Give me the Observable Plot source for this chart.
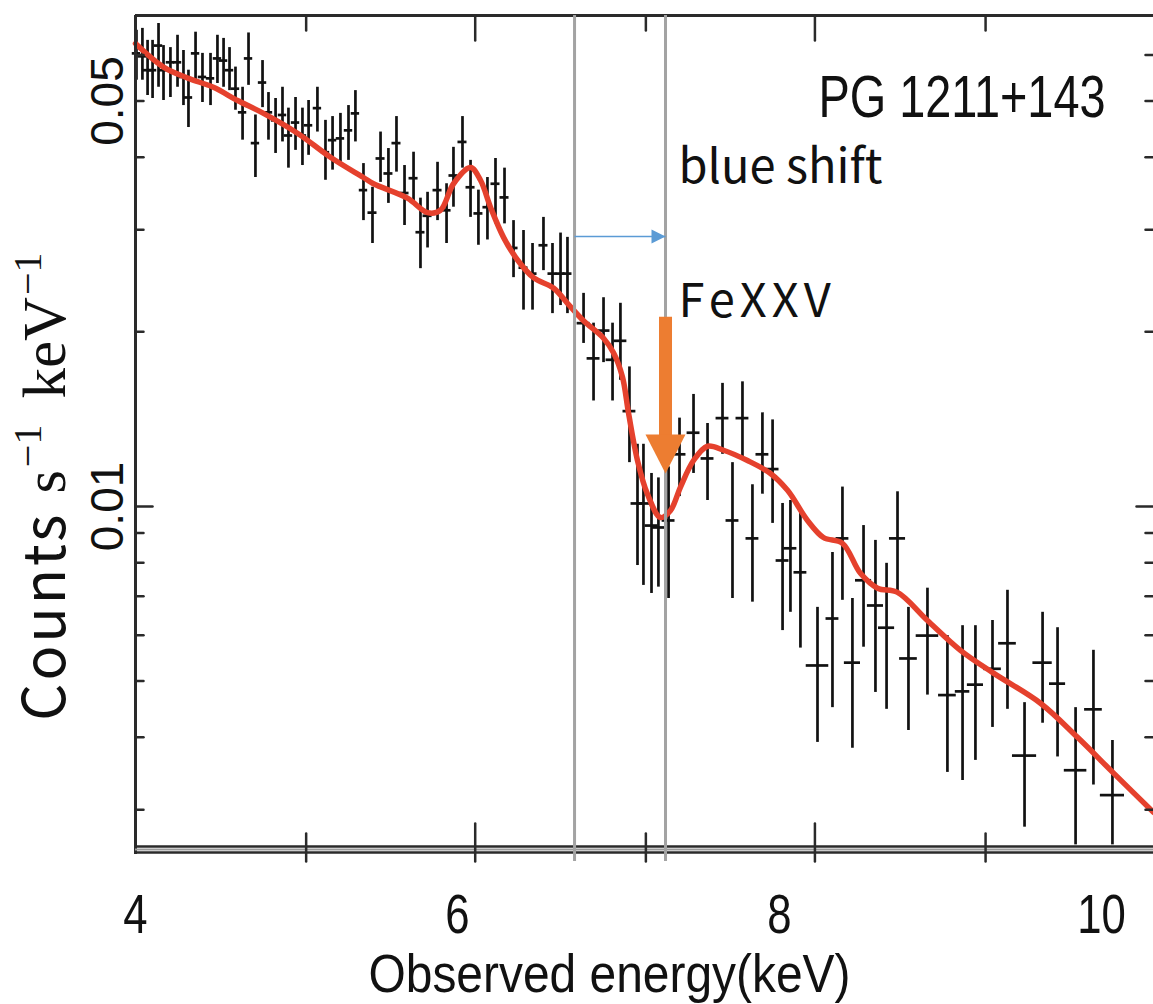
<!DOCTYPE html>
<html><head><meta charset="utf-8">
<script src="https://cdn.jsdelivr.net/npm/d3@7"></script>
<script src="https://cdn.jsdelivr.net/npm/@observablehq/plot@0.6"></script>
<style>
html,body{margin:0;padding:0;background:#fff;}
#chart{width:1153px;height:1004px;overflow:hidden;}
</style></head><body><div id="chart"></div>
<script>
// ---- data ----
const energy = [
4.006,4.043,4.075,4.106,4.143,4.174,4.217,4.261,4.298,4.329,
4.373,4.416,4.466,4.509,4.547,4.584,4.621,4.665,4.702,4.745,
4.789,4.826,4.870,4.913,4.950,4.994,5.037,5.075,5.130,5.180,
5.224,5.273,5.323,5.366,5.416,
5.472,5.522,5.571,5.621,5.671,5.727,5.770,5.814,5.876,5.932,
5.975,6.031,6.081,6.130,6.186,6.236,6.292,6.348,6.410,6.466,
6.534,6.590,6.640,6.683,
6.783,6.845,6.907,6.963,7.012,7.068,7.118,7.155,7.205,7.248,
7.311,7.379,7.466,7.553,7.646,7.708,7.770,7.832,7.894,7.957,
8.019,8.068,8.130,
8.236,8.329,8.391,8.453,8.522,8.596,8.665,8.733,8.801,8.919,
9.043,9.137,9.217,9.323,9.416,9.522,9.634,9.727,9.839,9.950,10.068];
const counts = [
0.0604,0.0597,0.0565,0.0565,0.0623,0.0565,0.0583,0.0583,0.0550,0.0507,
0.0604,0.0550,0.0547,0.0592,0.0587,0.0565,0.0525,0.0478,0.0592,0.0423,
0.0538,0.0478,0.0463,0.0473,0.0436,0.0459,0.0436,0.0454,0.0486,0.0408,
0.0428,0.0431,0.0445,0.0476,0.0351,
0.0321,0.0398,0.0375,0.0423,0.0347,0.0368,0.0297,0.0317,0.0351,0.0324,
0.0372,0.0425,0.0355,0.0320,0.0328,0.0360,0.0341,0.0279,0.0258,0.0252,
0.0282,0.0252,0.0252,0.0252,
0.0207,0.0180,0.0201,0.0179,0.0193,0.0146,0.01012,0.01012,0.00927,0.00920,
0.00946,0.0123,0.0134,0.0121,0.0142,0.00946,0.0142,0.00881,0.0123,0.0116,
0.00807,0.00847,0.00770,
0.00532,0.00641,0.00881,0.00538,0.00746,0.00675,0.00618,0.00881,0.00547,0.00599,
0.00473,0.00480,0.00493,0.00525,0.00581,0.00372,0.00538,0.00495,0.00351,0.00447,0.00318];
const countsHi = [
0.0662,0.0667,0.0636,0.0636,0.0680,0.0623,0.0618,0.0649,0.0611,0.0565,
0.0657,0.0604,0.0604,0.0649,0.0641,0.0618,0.0572,0.0528,0.0655,0.0473,
0.0587,0.0517,0.0505,0.0528,0.0486,0.0507,0.0486,0.0501,0.0528,0.0463,
0.0470,0.0476,0.0491,0.0521,0.0390,
0.0355,0.0442,0.0414,0.0470,0.0387,0.0408,0.0340,0.0348,0.0392,0.0360,
0.0416,0.0470,0.0395,0.0351,0.0369,0.0398,0.0383,0.0311,0.0299,0.0284,
0.0315,0.0284,0.0296,0.0291,
0.0233,0.0207,0.0229,0.0207,0.0224,0.0174,0.0128,0.0128,0.0114,0.0112,
0.0117,0.0142,0.0156,0.0139,0.0163,0.0119,0.0164,0.0109,0.0145,0.0141,
0.01012,0.01024,0.00984,
0.00670,0.00833,0.0108,0.00694,0.00927,0.00874,0.00798,0.0106,0.00670,0.00723,
0.00599,0.00623,0.00623,0.00636,0.00717,0.00459,0.00657,0.00618,0.00450,0.00565,0.00395];
const countsLo = [
0.0543,0.0543,0.0511,0.0505,0.0528,0.0501,0.0507,0.0528,0.0491,0.0450,
0.0538,0.0497,0.0491,0.0536,0.0528,0.0521,0.0482,0.0428,0.0532,0.0369,
0.0487,0.0428,0.0406,0.0425,0.0383,0.0411,0.0387,0.0403,0.0442,0.0365,
0.0380,0.0392,0.0395,0.0425,0.0311,
0.0284,0.0362,0.0333,0.0377,0.0305,0.0333,0.0257,0.0279,0.0311,0.0284,
0.0328,0.0383,0.0315,0.0282,0.0288,0.0307,0.0307,0.0248,0.0218,0.0218,
0.0255,0.0215,0.0222,0.0215,
0.0191,0.0152,0.0177,0.0152,0.0165,0.0119,0.00791,0.00731,0.00708,0.00726,
0.00694,0.0104,0.0114,0.01024,0.0123,0.00694,0.0121,0.00684,0.0105,0.00935,
0.00611,0.00657,0.00570,
0.00392,0.00450,0.00689,0.00383,0.00572,0.00478,0.00447,0.00708,0.00411,0.00473,
0.00348,0.00337,0.00365,0.00416,0.00447,0.00280,0.00423,0.00370,0.00261,0.00331,0.00261];
const binHalfWidth = [
0.026,0.026,0.026,0.026,0.026,0.026,0.026,0.026,0.026,0.026,
0.026,0.026,0.026,0.026,0.026,0.026,0.026,0.026,0.026,0.026,
0.026,0.026,0.026,0.026,0.026,0.026,0.026,0.026,0.026,0.026,
0.026,0.026,0.026,0.026,0.026,
0.028,0.028,0.028,0.028,0.028,0.028,0.028,0.028,0.028,0.028,
0.028,0.028,0.028,0.028,0.028,0.028,0.028,0.028,0.028,0.028,
0.028,0.028,0.028,0.028,
0.040,0.040,0.040,0.040,0.040,0.040,0.040,0.040,0.040,0.040,
0.040,0.040,0.040,0.040,0.040,0.040,0.040,0.040,0.040,0.040,
0.040,0.040,0.040,
0.070,0.040,0.040,0.050,0.050,0.050,0.050,0.050,0.055,0.070,
0.055,0.045,0.050,0.055,0.055,0.075,0.060,0.050,0.070,0.055,0.075];

const modelEnergy = [4.000,4.174,4.329,4.484,4.634,4.795,5.006,5.211,5.416,5.478,5.689,5.814,5.894,5.975,6.081,6.143,6.205,6.286,6.373,6.472,6.596,6.683,6.783,6.907,6.969,7.025,7.062,7.118,7.180,7.261,7.323,7.385,7.466,7.553,7.652,7.801,7.944,8.050,8.174,8.273,8.391,8.503,8.609,8.733,8.919,9.124,9.329,9.621,9.851,10.075,10.323];
const modelCounts = [0.0628,0.0572,0.0547,0.0528,0.0501,0.0476,0.0440,0.0400,0.0369,0.0360,0.0340,0.0321,0.0324,0.0360,0.0384,0.0365,0.0328,0.0291,0.0266,0.0248,0.0238,0.0224,0.0209,0.0195,0.0184,0.0167,0.0145,0.0120,0.0105,0.00957,0.00984,0.0108,0.0120,0.0127,0.0125,0.0120,0.0114,0.01066,0.00946,0.00884,0.00864,0.00767,0.00723,0.00711,0.00636,0.00565,0.00516,0.00458,0.00400,0.00347,0.00297];

// axes / ticks
const xTickValues = [4, 6, 8, 10];
const yTickLabels = [0.05, 0.01];
const yMajorTicks = [0.01];
const yMinorTicks = [0.003,0.004,0.005,0.006,0.007,0.008,0.009,0.02,0.03,0.04,0.05,0.06];
const frameMajorX = [6.11, 8.22];        // inner-frame ticks of the original panel
const frameMinorX = [5.06, 7.17, 9.28];

// annotations
const restEnergy = 6.727;      // left grey line
const shiftedEnergy = 7.292;   // right grey line
const blueArrowCounts = 0.0292;
const orangeTop = 0.0212, orangeNeck = 0.0130, orangeTip = 0.0114;
const blueShiftLabel = {x: 7.373, y: 0.0383, text: "blue shift"};
const feLabel = {x: 7.373, y: 0.0225, text: "FeXXV"};
const titleText = "PG 1211+143";
const xLabelText = "Observed energy(keV)";
const yLabelText = "Counts s-1 keV-1";

// ---- build ----
const points = energy.map((x, i) => ({x, y: counts[i], lo: countsLo[i], hi: countsHi[i], hw: binHalfWidth[i]}));
const model = modelEnergy.map((x, i) => ({x, y: modelCounts[i]}));

const tickShape = {draw(ctx, l) { ctx.moveTo(0, 0); ctx.lineTo(0, -l); }};
const headDown = {draw(ctx) { ctx.moveTo(0, 0); ctx.lineTo(-20, -39); ctx.lineTo(20, -39); ctx.closePath(); }};
const headRight = {draw(ctx) { ctx.moveTo(0, 0); ctx.lineTo(-14, -7); ctx.lineTo(-14, 7); ctx.closePath(); }};

const frameColor = "#2a2a2a";
const sans = "'Noto Sans CJK JP', 'Noto Sans', sans-serif";
const helv = "'Liberation Sans', Arial, sans-serif";

const svg = Plot.plot({
  width: 1153, height: 1004,
  marginLeft: 135, marginRight: 0, marginTop: 15, marginBottom: 157,
  x: {domain: [4, 10.323]},
  y: {type: "log", domain: [0.002583, 0.0702], axis: null},
  style: {background: "#fff", overflow: "visible"},
  marks: [
    // error bars
    Plot.ruleX(points, {x: "x", y1: "lo", y2: "hi", stroke: "#111", strokeWidth: 2.7}),
    Plot.ruleY(points, {y: "y", x1: d => d.x - d.hw, x2: d => d.x + d.hw, stroke: "#111", strokeWidth: 2.7}),
    // model
    Plot.line(model, {x: "x", y: "y", stroke: "#e5412d", strokeWidth: 5.5, curve: "catmull-rom"}),
    // frame
    Plot.ruleX([4], {stroke: frameColor, strokeWidth: 3, insetBottom: -7}),
    Plot.ruleY([0.0702], {stroke: frameColor, strokeWidth: 3}),
    Plot.ruleY([0.002583], {stroke: frameColor, strokeWidth: 2.5, dy: -1}),
    Plot.ruleY([0.002583], {stroke: "#999", strokeWidth: 2, dy: 2}),
    Plot.ruleY([0.002583], {stroke: frameColor, strokeWidth: 2.5, dy: 5}),
    // frame ticks
    Plot.vector(yMinorTicks, {y: d => d, frameAnchor: "left", rotate: 90, length: 8, anchor: "start", shape: tickShape, stroke: frameColor, strokeWidth: 2.5}),
    Plot.vector(yMajorTicks, {y: d => d, frameAnchor: "left", rotate: 90, length: 17, anchor: "start", shape: tickShape, stroke: frameColor, strokeWidth: 2.5}),
    Plot.vector(yMinorTicks, {y: d => d, frameAnchor: "right", rotate: -90, length: 8, anchor: "start", shape: tickShape, stroke: frameColor, strokeWidth: 2.5}),
    Plot.vector(yMajorTicks, {y: d => d, frameAnchor: "right", rotate: -90, length: 17, anchor: "start", shape: tickShape, stroke: frameColor, strokeWidth: 2.5}),
    Plot.vector(frameMajorX, {x: d => d, frameAnchor: "top", rotate: 180, length: 25, anchor: "start", shape: tickShape, stroke: frameColor, strokeWidth: 2.5}),
    Plot.vector(frameMinorX, {x: d => d, frameAnchor: "top", rotate: 180, length: 15, anchor: "start", shape: tickShape, stroke: frameColor, strokeWidth: 2.5}),
    Plot.vector(frameMajorX, {x: d => d, frameAnchor: "bottom", rotate: 0, length: 38, dy: 14, anchor: "start", shape: tickShape, stroke: frameColor, strokeWidth: 2.5}),
    Plot.vector(frameMinorX, {x: d => d, frameAnchor: "bottom", rotate: 0, length: 28, dy: 14, anchor: "start", shape: tickShape, stroke: frameColor, strokeWidth: 2.5}),
    // y tick labels (rotated, like the original)
    Plot.text(yTickLabels, {y: d => d, text: d => d.toFixed(2), frameAnchor: "left", textAnchor: "middle", lineAnchor: "middle", dx: -27, rotate: -90, fontSize: 46, fontFamily: helv, fill: "#111"}),
    // grey marker lines
    Plot.ruleX([restEnergy, shiftedEnergy], {stroke: "#a3a3a3", strokeWidth: 3, insetBottom: -14}),
    // blue shift arrow
    Plot.link([{x1: restEnergy, x2: shiftedEnergy, y: blueArrowCounts}], {x1: "x1", x2: "x2", y1: "y", y2: "y", stroke: "#5b9bd5", strokeWidth: 1.6}),
    Plot.dot([{x: shiftedEnergy, y: blueArrowCounts}], {x: "x", y: "y", symbol: headRight, fill: "#5b9bd5", stroke: "none"}),
    // FeXXV arrow
    Plot.ruleX([shiftedEnergy], {y1: orangeTop, y2: orangeNeck, stroke: "#ed7d31", strokeWidth: 13}),
    Plot.dot([{x: shiftedEnergy, y: orangeTip}], {x: "x", y: "y", symbol: headDown, fill: "#ed7d31", stroke: "none"}),
    // annotation text
    Plot.text([blueShiftLabel], {x: "x", y: "y", text: "text", textAnchor: "start", lineAnchor: "middle", fontSize: 47, fontFamily: sans, fill: "#111"}),
    Plot.text([feLabel], {x: "x", y: "y", text: "text", textAnchor: "start", lineAnchor: "middle", fontSize: 47, fontFamily: sans, fill: "#111"}),
    Plot.text([titleText], {frameAnchor: "top-right", dx: -48, dy: 82, textAnchor: "end", lineAnchor: "middle", fontSize: 60, fontFamily: helv, fill: "#111"}),
    // x axis labels
    Plot.axisX(xTickValues, {anchor: "bottom", tickSize: 0, tickPadding: 46, tickFormat: d => String(d), fontSize: 56, fontFamily: helv, label: null, fill: "#111"}),
    Plot.text([xLabelText], {frameAnchor: "bottom", textAnchor: "middle", lineAnchor: "middle", dx: -35, dy: 127, fontSize: 54, fontFamily: helv, fill: "#111"}),
    Plot.text([yLabelText], {frameAnchor: "left", textAnchor: "middle", lineAnchor: "middle", dx: -89, dy: 55, rotate: -90, fontSize: 58, fontFamily: sans, fill: "#111"})
  ]
});

document.getElementById("chart").append(svg);

// ---- refine texts (after insertion so lengths can be measured) ----
const s = d3.select(svg);
const byText = t => s.selectAll("text").filter(function() { return this.textContent === t; });
byText(xLabelText).attr("textLength", 482).attr("lengthAdjust", "spacingAndGlyphs");
byText(titleText).attr("textLength", 287).attr("lengthAdjust", "spacingAndGlyphs");
byText(feLabel.text).style("letter-spacing", "5px");
xTickValues.forEach(v => {
  byText(String(v)).each(function() {
    const w = this.getComputedTextLength();
    d3.select(this).attr("textLength", w * 0.78).attr("lengthAdjust", "spacingAndGlyphs");
  });
});
const yl = byText(yLabelText);
yl.text(null);
const serif = "'Liberation Serif', 'DejaVu Serif', serif";
yl.append("tspan").attr("letter-spacing", 3).text("Counts");
yl.append("tspan").attr("font-family", serif).attr("font-size", 60).attr("dx", 18).text("s");
yl.append("tspan").attr("font-family", serif).attr("font-size", 40).attr("dx", 3).attr("dy", -24).text("\u22121");
yl.append("tspan").attr("font-family", serif).attr("font-size", 61).attr("dx", 26).attr("dy", 24).text("keV");
yl.append("tspan").attr("font-family", serif).attr("font-size", 40).attr("dx", 2).attr("dy", -24).text("\u22121");
</script>
</body></html>
